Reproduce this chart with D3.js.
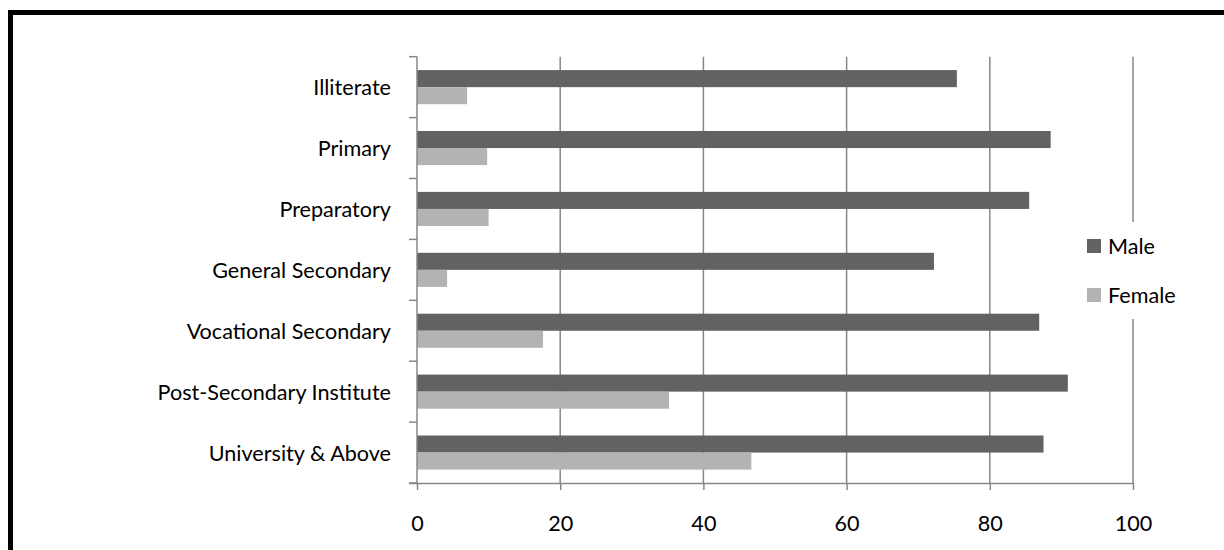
<!DOCTYPE html>
<html>
<head>
<meta charset="utf-8">
<script src="https://cdn.jsdelivr.net/npm/d3@7/dist/d3.min.js"></script>
<style>
  html, body { margin: 0; padding: 0; background: #fff; }
  svg { display: block; }
  text { font-family: Lato, "Open Sans", sans-serif; fill: #000; }
</style>
</head>
<body>
<svg id="chart" width="1224" height="550"></svg>
<script>
const categories = ["Illiterate", "Primary", "Preparatory", "General Secondary",
  "Vocational Secondary", "Post-Secondary Institute", "University & Above"];
const seriesNames = ["Male", "Female"];
const maleValues = [75.4, 88.5, 85.5, 72.2, 86.9, 90.9, 87.5];
const femaleValues = [7.0, 9.8, 10.0, 4.2, 17.6, 35.2, 46.7];
const xTicks = [0, 20, 40, 60, 80, 100];
const colors = ["#626262", "#b3b3b3"];

const svg = d3.select("#chart");
const fontSize = 21.6;

// outer frame (extends beyond right and bottom edges)
svg.append("rect")
  .attr("x", 10.5).attr("y", 12.5)
  .attr("width", 1240).attr("height", 560)
  .attr("fill", "none").attr("stroke", "#000").attr("stroke-width", 5);

const x = d3.scaleLinear().domain([0, 100]).range([417, 1133]);
const y = d3.scaleBand().domain(categories).range([56.7, 483])
  .paddingInner(0.44).paddingOuter(0.22);
const sub = d3.scaleBand().domain(seriesNames).range([0, y.bandwidth()]);

const axisColor = "#878787";

// gridlines
svg.append("g").selectAll("line").data(xTicks.filter(d => d > 0)).join("line")
  .attr("x1", d => x(d)).attr("x2", d => x(d))
  .attr("y1", 56.7).attr("y2", 483)
  .attr("stroke", axisColor).attr("stroke-width", 1.5);

// bars
const data = categories.map((c, i) => ({ cat: c, vals: [maleValues[i], femaleValues[i]] }));
const groups = svg.append("g").selectAll("g").data(data).join("g")
  .attr("transform", d => `translate(0,${y(d.cat)})`);
groups.selectAll("rect").data(d => d.vals.map((v, j) => ({ v, s: seriesNames[j], j })))
  .join("rect")
  .attr("x", x(0))
  .attr("y", d => sub(d.s))
  .attr("width", d => x(d.v) - x(0))
  .attr("height", sub.bandwidth())
  .attr("fill", d => colors[d.j]);

// y axis
const yAxisG = svg.append("g").attr("transform", `translate(${x(0)},0)`);
yAxisG.append("line").attr("x1", 0).attr("x2", 0).attr("y1", 56.7).attr("y2", 483)
  .attr("stroke", axisColor).attr("stroke-width", 1.5);
const yTickPos = d3.range(categories.length + 1).map(i => 56.7 + i * y.step());
yAxisG.selectAll("line.t").data(yTickPos).join("line").attr("class", "t")
  .attr("x1", -8).attr("x2", 0).attr("y1", d => d).attr("y2", d => d)
  .attr("stroke", axisColor).attr("stroke-width", 1.5);
svg.append("g").selectAll("text").data(categories).join("text")
  .attr("x", 391).attr("y", d => y(d) + y.bandwidth() / 2)
  .attr("text-anchor", "end").attr("dominant-baseline", "central")
  .style("font-size", fontSize + "px")
  .text(d => d);

// x axis
const xAxis = d3.axisBottom(x).tickValues(xTicks).tickSize(7).tickPadding(26);
const xAxisG = svg.append("g").attr("transform", "translate(0,483)").call(xAxis);
xAxisG.select(".domain").attr("stroke", axisColor).attr("stroke-width", 1.5)
  .attr("d", `M${x(0) - 8},0.5H${x(100)}`);
xAxisG.selectAll(".tick line").attr("stroke", axisColor).attr("stroke-width", 1.5);
xAxisG.selectAll(".tick text").style("font-size", fontSize + "px")
  .style("font-family", "Lato, 'Open Sans', sans-serif").attr("fill", "#000");

// legend
const legend = svg.append("g");
legend.append("rect").attr("x", 1078).attr("y", 222).attr("width", 120).attr("height", 97).attr("fill", "#fff");
const legY = [246, 295];
const lg = legend.selectAll("g").data(seriesNames).join("g")
  .attr("transform", (d, i) => `translate(1087,${legY[i]})`);
lg.append("rect").attr("x", 0).attr("y", -7).attr("width", 14).attr("height", 14)
  .attr("fill", (d, i) => colors[i]);
lg.append("text").attr("x", 21).attr("y", 0).attr("dominant-baseline", "central")
  .style("font-size", fontSize + "px").text(d => d);
</script>
</body>
</html>
